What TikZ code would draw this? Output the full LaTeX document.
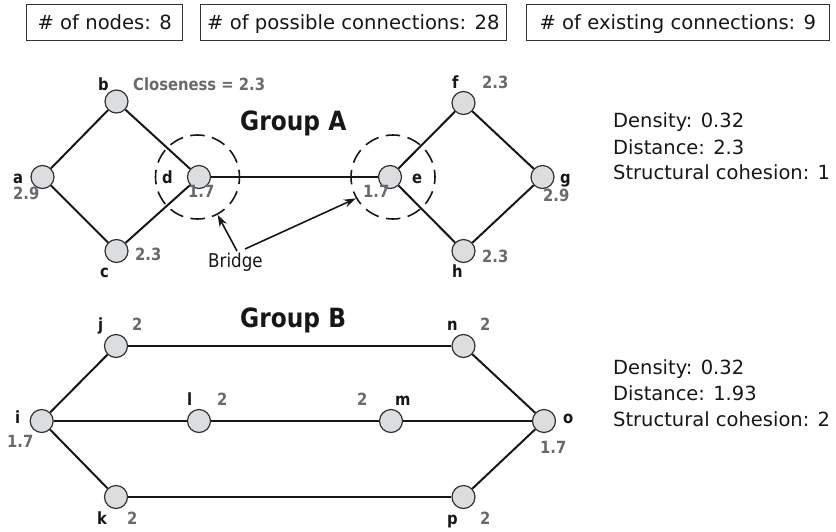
\documentclass[tikz,border=0pt]{standalone}
\usepackage{fontspec}
\setmainfont{DejaVu Sans}
\newfontfamily\narrowfont[FakeStretch=0.88]{DejaVu Sans}
\usetikzlibrary{arrows.meta}
\definecolor{numgray}{RGB}{105,106,109}
\definecolor{vfill}{RGB}{220,221,223}
\definecolor{vline}{RGB}{50,50,50}
\definecolor{ink}{RGB}{25,22,23}

\begin{document}
\begin{tikzpicture}[x=1pt,y=-1pt,
  vtx/.style={circle,draw=vline,line width=1.2pt,fill=vfill,minimum size=23pt,inner sep=0},
  edge/.style={line width=2pt,draw=ink},
  ring/.style={circle,draw=ink,line width=1.6pt,dash pattern=on 14.5pt off 7.5pt,dash phase=7.25pt,minimum size=84pt,inner sep=0},
  nm/.style={anchor=base west,inner sep=0,text=ink,font=\narrowfont\bfseries\fontsize{16.8}{19}\selectfont},
  val/.style={nm,text=numgray},
  stat/.style={anchor=base west,inner sep=0,text=ink,font=\fontsize{19.5}{23}\selectfont},
  grouptitle/.style={anchor=base west,inner sep=0,text=ink,font=\narrowfont\bfseries\fontsize{26.5}{30}\selectfont},
  countbox/.style={draw=vline,line width=0.8pt,inner sep=0,minimum height=36pt,text height=15pt,text depth=0pt,text=ink,font=\fontsize{19.6}{23}\selectfont},
  bridgearrow/.style={line width=1.6pt,draw=ink,-{Stealth[length=12pt,width=8pt]}}
]
\useasboundingbox (0,0) rectangle (836,531);

% counters across the top
\node[countbox,minimum width=156pt] (cnodes) at (104.7,22) {\# of nodes: 8};
\node[countbox,minimum width=306.7pt] (cposs) at (353.3,22) {\# of possible connections: 28};
\node[countbox,minimum width=302.3pt] (cexist) at (677.8,22) {\# of existing connections: 9};

% ---------------- Group A ----------------
\node[vtx] (a) at (42.5,177) {};
\node[vtx] (b) at (116.5,101.5) {};
\node[vtx] (c) at (116.5,251) {};
\node[vtx] (d) at (199,177) {};
\node[vtx] (e) at (390,177) {};
\node[vtx] (f) at (463.5,103) {};
\node[vtx] (g) at (542.5,177) {};
\node[vtx] (h) at (463.5,251) {};

\node[ring] (dring) at (197.5,177) {};
\node[ring] (ering) at (393,177) {};

\draw[edge] (a) -- (b);
\draw[edge] (a) -- (c);
\draw[edge] (b) -- (d);
\draw[edge] (c) -- (d);
\draw[edge] (d) -- (e);
\draw[edge] (e) -- (f);
\draw[edge] (e) -- (h);
\draw[edge] (f) -- (g);
\draw[edge] (h) -- (g);

\node[nm] (la) at (13,183) {a};
\node[val] (va) at (13,199) {2.9};
\node[nm] (lb) at (98,90) {b};
\node[val] (vb) at (133,90) {Closeness = 2.3};
\node[nm] (lc) at (100,277) {c};
\node[val] (vc) at (135,260) {2.3};
\node[nm] (ld) at (162,183) {d};
\node[val] (vd) at (188,197) {1.7};
\node[nm] (le) at (412,183) {e};
\node[val] (ve) at (363,197) {1.7};
\node[nm] (lf) at (452,88) {f};
\node[val] (vf) at (482,88) {2.3};
\node[nm] (lg) at (560,183) {g};
\node[val] (vg) at (543,201) {2.9};
\node[nm] (lh) at (452,277) {h};
\node[val] (vh) at (482,262) {2.3};

\node[grouptitle] (ga) at (240,130) {Group A};

\node[anchor=base west,inner sep=0,text=ink,font=\narrowfont\fontsize{19}{22}\selectfont] (bridge) at (208,267) {Bridge};
\coordinate (br1) at (237,251);
\coordinate (br2) at (245,249);
\draw[bridgearrow] (br1) -- (dring.-62);
\draw[bridgearrow] (br2) -- (ering.210);

\node[stat] (densA) at (613,127) {Density: 0.32};
\node[stat] (distA) at (613,154) {Distance: 2.3};
\node[stat] (cohA) at (613,179.5) {Structural cohesion: 1};

% ---------------- Group B ----------------
\node[vtx] (i) at (41.7,421) {};
\node[vtx] (j) at (116,346) {};
\node[vtx] (k) at (116,497) {};
\node[vtx] (l) at (199,421) {};
\node[vtx] (m) at (391,421) {};
\node[vtx] (n) at (463.5,346) {};
\node[vtx] (o) at (544,421) {};
\node[vtx] (p) at (463.5,497) {};

\draw[edge] (i) -- (j);
\draw[edge] (i) -- (l);
\draw[edge] (i) -- (k);
\draw[edge] (j) -- (n);
\draw[edge] (l) -- (m);
\draw[edge] (m) -- (o);
\draw[edge] (k) -- (p);
\draw[edge] (n) -- (o);
\draw[edge] (p) -- (o);

\node[nm] (li) at (15,423) {i};
\node[val] (vi) at (7,447) {1.7};
\node[nm] (lj) at (98,330) {j};
\node[val] (vj) at (132,330) {2};
\node[nm] (lk) at (97,524) {k};
\node[val] (vk) at (127,524) {2};
\node[nm] (ll) at (187,405) {l};
\node[val] (vl) at (217,405) {2};
\node[val] (vm) at (357,405) {2};
\node[nm] (lm) at (395,405) {m};
\node[nm] (ln) at (447,330) {n};
\node[val] (vn) at (480,330) {2};
\node[nm] (lo) at (563,423) {o};
\node[val] (vo) at (540,453) {1.7};
\node[nm] (lp) at (447,524) {p};
\node[val] (vp) at (480,524) {2};

\node[grouptitle] (gb) at (240,327) {Group B};

\node[stat] (densB) at (613,374) {Density: 0.32};
\node[stat] (distB) at (613,400) {Distance: 1.93};
\node[stat] (cohB) at (613,426.7) {Structural cohesion: 2};
\end{tikzpicture}
\end{document}
